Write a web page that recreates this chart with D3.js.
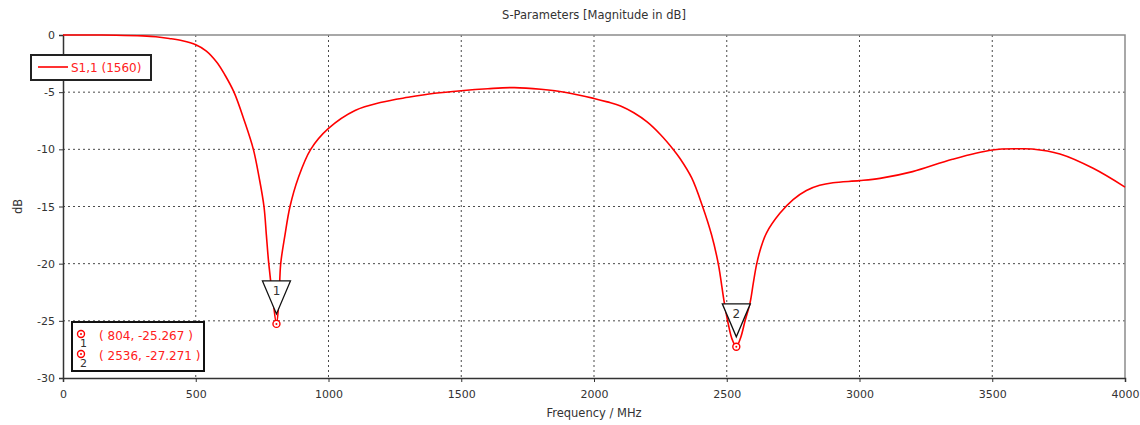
<!DOCTYPE html>
<html>
<head>
<meta charset="utf-8">
<script src="https://cdn.jsdelivr.net/npm/d3@7"></script>
<style>
  body { margin: 0; background: #fff; }
  text { font-family: "DejaVu Sans", sans-serif; }
</style>
</head>
<body>
<div id="chart"></div>
<script>
// S1,1 (MHz, dB)
const freqs = [0, 100, 200, 300, 350, 400, 450, 500, 540, 580, 610, 644, 683, 717, 739, 757, 766, 775, 790, 804,
  813, 820, 836, 855, 886, 933, 1000, 1100, 1200, 1300, 1400, 1500, 1600, 1700, 1800, 1900, 2000,
  2050, 2100, 2150, 2200, 2250, 2300, 2324, 2368, 2409, 2443, 2468, 2490, 2505, 2520, 2536, 2552, 2569, 2588,
  2600, 2613, 2630, 2650, 2700, 2750, 2800, 2850, 2900, 3000, 3077, 3200, 3350, 3500, 3600, 3650, 3755, 3880, 4000];
const s11 = [0, 0, -0.02, -0.08, -0.15, -0.3, -0.5, -0.85, -1.4, -2.4, -3.5, -5.0, -7.5, -10, -12.5, -15, -17.5, -20, -23, -25.267,
  -23.3, -20, -17.5, -15, -12.5, -10, -8.17, -6.6, -5.88, -5.45, -5.1, -4.87, -4.7, -4.6, -4.75, -5.05, -5.55,
  -5.85, -6.2, -6.8, -7.6, -8.7, -10.05, -10.8, -12.5, -15, -17.5, -20, -23.3, -25.2, -26.6, -27.271, -26.5, -25, -23.4,
  -21.7, -20, -18.5, -17.3, -15.6, -14.4, -13.6, -13.15, -12.92, -12.74, -12.54, -11.95, -10.87, -10.06, -9.95, -9.97, -10.41, -11.66, -13.3];

const xTicks = [0, 500, 1000, 1500, 2000, 2500, 3000, 3500, 4000];
const yTicks = [0, -5, -10, -15, -20, -25, -30];

const markerIds = ["1", "2"];
const markerFreqs = [804, 2536];
const markerValues = [-25.267, -27.271];

const width = 1140, height = 425;
const pLeft = 63, pRight = 1125, pTop = 35, pBottom = 378;

const svg = d3.select("#chart").append("svg")
  .attr("width", width)
  .attr("height", height);

const x = d3.scaleLinear().domain([0, 4000]).range([pLeft, pRight]);
const y = d3.scaleLinear().domain([-30, 0]).range([pBottom, pTop]);

// grid
svg.append("g").selectAll("line")
  .data(xTicks.slice(1, -1))
  .enter().append("line")
  .attr("x1", d => x(d)).attr("x2", d => x(d))
  .attr("y1", pTop).attr("y2", pBottom)
  .attr("stroke", "#4a4a4a").attr("stroke-dasharray", "2,3");

svg.append("g").selectAll("line")
  .data(yTicks.slice(1, -1))
  .enter().append("line")
  .attr("x1", pLeft).attr("x2", pRight)
  .attr("y1", d => y(d)).attr("y2", d => y(d))
  .attr("stroke", "#4a4a4a").attr("stroke-dasharray", "2,3");

// frame top/right
svg.append("path")
  .attr("d", `M${pLeft},${pTop}H${pRight}V${pBottom}`)
  .attr("fill", "none").attr("stroke", "#8c8c8c").attr("stroke-width", 1.5);

// axes
const xAxis = svg.append("g")
  .attr("transform", `translate(0,${pBottom})`)
  .call(d3.axisBottom(x).tickValues(xTicks).tickSize(4).tickPadding(8).tickFormat(d3.format("d")));
const yAxis = svg.append("g")
  .attr("transform", `translate(${pLeft},0)`)
  .call(d3.axisLeft(y).tickValues(yTicks).tickSize(4).tickPadding(4).tickFormat(d => d));

[xAxis, yAxis].forEach(a => {
  a.select(".domain").attr("stroke", "#333").attr("stroke-width", 1.5);
  a.selectAll(".tick line").attr("stroke", "#333");
  a.selectAll("text").attr("fill", "#333").style("font-size", "11px").style("font-family", "DejaVu Sans");
});

// curve
const data = freqs.map((f, i) => ({ f: f, v: s11[i] }));
const line = d3.line()
  .x(d => x(d.f))
  .y(d => y(d.v))
  .curve(d3.curveCatmullRom.alpha(0.5));

svg.append("path")
  .datum(data)
  .attr("fill", "none")
  .attr("stroke", "#ff0000")
  .attr("stroke-width", 1.6)
  .attr("d", line);

// markers on curve
markerIds.forEach((id, i) => {
  const mx = x(markerFreqs[i]), my = y(markerValues[i]);
  svg.append("path")
    .attr("d", `M${mx - 14},${my - 43}H${mx + 14}L${mx},${my - 10}Z`)
    .attr("fill", "#fff").attr("stroke", "#111").attr("stroke-width", 1.3);
  svg.append("text")
    .attr("x", mx).attr("y", my - 29)
    .attr("text-anchor", "middle")
    .attr("fill", "#333").style("font-size", "12px")
    .text(id);
  svg.append("circle")
    .attr("cx", mx).attr("cy", my).attr("r", 3.5)
    .attr("fill", "#fff").attr("stroke", "#ff0000").attr("stroke-width", 1.4);
  svg.append("circle")
    .attr("cx", mx).attr("cy", my).attr("r", 1)
    .attr("fill", "#ff0000");
});

// title and labels
svg.append("text")
  .attr("x", (pLeft + pRight) / 2).attr("y", 19)
  .attr("text-anchor", "middle")
  .attr("fill", "#333").style("font-size", "11.5px")
  .text("S-Parameters [Magnitude in dB]");

svg.append("text")
  .attr("x", (pLeft + pRight) / 2).attr("y", 417)
  .attr("text-anchor", "middle")
  .attr("fill", "#333").style("font-size", "11.5px")
  .text("Frequency / MHz");

svg.append("text")
  .attr("transform", `translate(22,${(pTop + pBottom) / 2}) rotate(-90)`)
  .attr("text-anchor", "middle")
  .attr("fill", "#333").style("font-size", "11.5px")
  .text("dB");

// legend
const legend = svg.append("g");
legend.append("rect")
  .attr("x", 31).attr("y", 55).attr("width", 120).attr("height", 25)
  .attr("fill", "#fff").attr("stroke", "#222").attr("stroke-width", 2);
legend.append("line")
  .attr("x1", 38).attr("x2", 68).attr("y1", 67).attr("y2", 67)
  .attr("stroke", "#ff0000").attr("stroke-width", 1.6);
legend.append("text")
  .attr("x", 71).attr("y", 72)
  .attr("fill", "#ff2020").style("font-size", "12px")
  .text("S1,1 (1560)");

// marker table
const table = svg.append("g");
table.append("rect")
  .attr("x", 72).attr("y", 322).attr("width", 132).attr("height", 49)
  .attr("fill", "#fff").attr("stroke", "#111").attr("stroke-width", 2);
markerIds.forEach((id, i) => {
  const cy = 334 + i * 20;
  table.append("circle")
    .attr("cx", 81).attr("cy", cy).attr("r", 3.5)
    .attr("fill", "none").attr("stroke", "#ff0000").attr("stroke-width", 1.4);
  table.append("circle")
    .attr("cx", 81).attr("cy", cy).attr("r", 1).attr("fill", "#ff0000");
  table.append("text")
    .attr("x", 80).attr("y", cy + 13)
    .attr("fill", "#333").style("font-size", "11px")
    .text(id);
  table.append("text")
    .attr("x", 99).attr("y", cy + 6)
    .attr("fill", "#ff2020").style("font-size", "12px")
    .text(`( ${markerFreqs[i]}, ${markerValues[i]} )`);
});
</script>
</body>
</html>
